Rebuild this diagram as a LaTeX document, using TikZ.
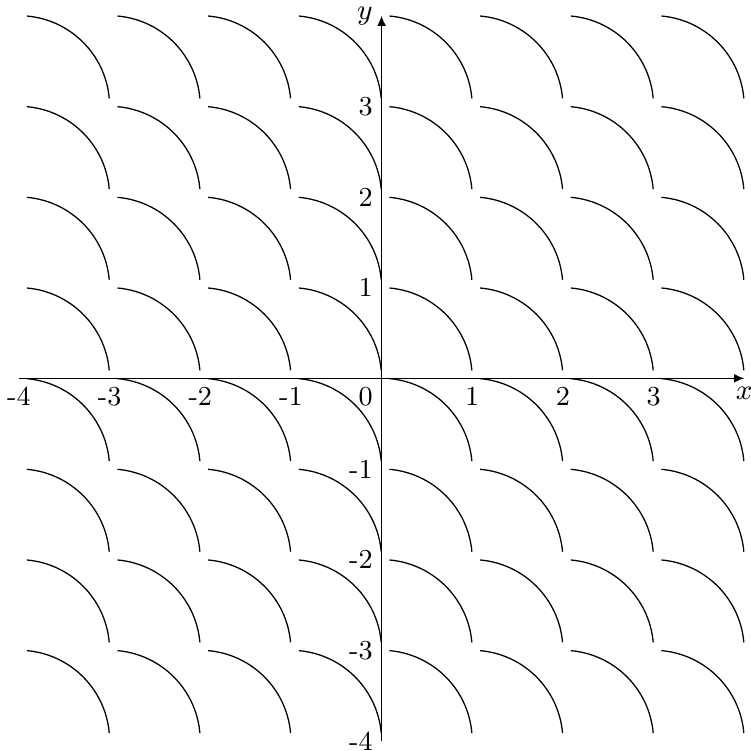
\documentclass[tikz,border=0pt]{standalone}
\usetikzlibrary{arrows.meta}
\begin{document}
\begin{tikzpicture}[x=1cm,y=1cm,
  scale arc/.style={line width=0.4pt},
  axisline/.style={line width=0.5pt,-{Latex[length=3.2pt,width=2.8pt]}},
  ticklab/.style={font=\fontsize{8.6pt}{10pt}\selectfont,inner sep=2.6pt}]
\useasboundingbox (-4.209,-4.111) rectangle (4.065,4.173);
\foreach \i in {-4,...,3}{
  \foreach \j in {-4,...,3}{
    \draw[scale arc] ([shift={(85:1)}]\i,\j) arc[start angle=85,end angle=5,radius=1];
  }
}
\coordinate (xs) at (-4,0);
\coordinate (xe) at (4,0);
\coordinate (ys) at (0,-4);
\coordinate (ye) at (0,4);
\draw[axisline] (xs) -- (xe);
\draw[axisline] (ys) -- (ye);
\node[ticklab,below] (xl) at (xe) {$x$};
\node[ticklab,left] (yl) at (ye) {$y$};
\node[ticklab,below left] (o) at (0,0) {0};
\foreach \k in {-4,-3,-2,-1,1,2,3}{
  \node[ticklab,below] (xt\k) at (\k,0) {\k};
}
\foreach \k in {-4,-3,-2,-1,1,2,3}{
  \node[ticklab,left] (yt\k) at (0,\k) {\k};
}
\end{tikzpicture}
\end{document}
